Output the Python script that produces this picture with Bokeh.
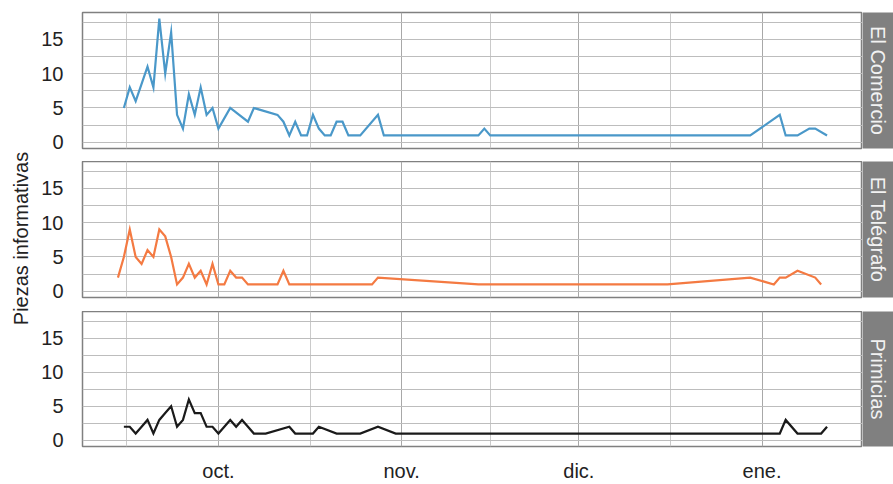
from math import pi
import pandas as pd
from bokeh.plotting import figure
from bokeh.layouts import row, column
from bokeh.models import Range1d, FixedTicker, CustomJSTickFormatter
from bokeh.embed import file_html
from bokeh.resources import INLINE
from bokeh.core.properties import value

FONT = "Liberation Sans"

outlets = ["El Comercio", "El Telégrafo", "Primicias"]
colors = ["#4A98C9", "#F47A42", "#1A1A1A"]
y_title = "Piezas informativas"

ec_dates = ["2019-09-15", "2019-09-16", "2019-09-17", "2019-09-19", "2019-09-20",
            "2019-09-21", "2019-09-22", "2019-09-23", "2019-09-24", "2019-09-25",
            "2019-09-26", "2019-09-27", "2019-09-28", "2019-09-29", "2019-09-30",
            "2019-10-01", "2019-10-03", "2019-10-06", "2019-10-07", "2019-10-11",
            "2019-10-12", "2019-10-13", "2019-10-14", "2019-10-15", "2019-10-16",
            "2019-10-17", "2019-10-18", "2019-10-19", "2019-10-20", "2019-10-21",
            "2019-10-22", "2019-10-23", "2019-10-25", "2019-10-28", "2019-10-29",
            "2019-11-14", "2019-11-15", "2019-11-16", "2019-12-30", "2020-01-04",
            "2020-01-05", "2020-01-07", "2020-01-09", "2020-01-10", "2020-01-12"]
ec_values = [5, 8, 6, 11, 8,
             18, 10, 16, 4, 2,
             7, 4, 8, 4, 5,
             2, 5, 3, 5, 4,
             3, 1, 3, 1, 1,
             4, 2, 1, 1, 3,
             3, 1, 1, 4, 1,
             1, 2, 1, 1, 4,
             1, 1, 2, 2, 1]

et_dates = ["2019-09-14", "2019-09-15", "2019-09-16", "2019-09-17", "2019-09-18",
            "2019-09-19", "2019-09-20", "2019-09-21", "2019-09-22", "2019-09-23",
            "2019-09-24", "2019-09-25", "2019-09-26", "2019-09-27", "2019-09-28",
            "2019-09-29", "2019-09-30", "2019-10-01", "2019-10-02", "2019-10-03",
            "2019-10-04", "2019-10-05", "2019-10-06", "2019-10-11", "2019-10-12",
            "2019-10-13", "2019-10-27", "2019-10-28", "2019-11-14", "2019-12-16",
            "2019-12-30", "2020-01-03", "2020-01-04", "2020-01-05", "2020-01-07",
            "2020-01-10", "2020-01-11"]
et_values = [2, 5, 9, 5, 4,
             6, 5, 9, 8, 5,
             1, 2, 4, 2, 3,
             1, 4, 1, 1, 3,
             2, 2, 1, 1, 3,
             1, 1, 2, 1, 1,
             2, 1, 2, 2, 3,
             2, 1]

pr_dates = ["2019-09-15", "2019-09-16", "2019-09-17", "2019-09-18", "2019-09-19",
            "2019-09-20", "2019-09-21", "2019-09-22", "2019-09-23", "2019-09-24",
            "2019-09-25", "2019-09-26", "2019-09-27", "2019-09-28", "2019-09-29",
            "2019-09-30", "2019-10-01", "2019-10-02", "2019-10-03", "2019-10-04",
            "2019-10-05", "2019-10-06", "2019-10-07", "2019-10-09", "2019-10-13",
            "2019-10-14", "2019-10-17", "2019-10-18", "2019-10-21", "2019-10-25",
            "2019-10-28", "2019-10-31", "2020-01-04", "2020-01-05", "2020-01-07",
            "2020-01-11", "2020-01-12"]
pr_values = [2, 2, 1, 2, 3,
             1, 3, 4, 5, 2,
             3, 6, 4, 4, 2,
             2, 1, 2, 3, 2,
             3, 2, 1, 1, 2,
             1, 1, 2, 1, 1,
             2, 1, 1, 3, 1,
             1, 2]

month_ticks = ["2019-10-01", "2019-11-01", "2019-12-01", "2020-01-01"]
month_minor = ["2019-09-15 12:00", "2019-10-16 12:00", "2019-11-16 00:00", "2019-12-16 12:00"]
y_ticks = [0, 5, 10, 15]
y_minor = [2.5, 7.5, 12.5, 17.5]


def ms(d):
    return pd.Timestamp(d).value / 1e6


series = [(pd.to_datetime(ec_dates), ec_values),
          (pd.to_datetime(et_dates), et_values),
          (pd.to_datetime(pr_dates), pr_values)]

all_dates = pd.to_datetime(ec_dates + et_dates + pr_dates)
d0, d1 = all_dates.min(), all_dates.max()
pad = (d1 - d0) * 0.05
xr = Range1d(start=d0 - pad, end=d1 + pad)
y_lo, y_hi = 0, max(ec_values + et_values + pr_values)
ypad = (y_hi - y_lo) * 0.05
yr = Range1d(start=y_lo - ypad, end=y_hi + ypad)

x_major = [ms(d) for d in month_ticks]
x_minor = [ms(d) for d in month_minor]

fmt_code = """
const m = ["ene.","feb.","mar.","abr.","may.","jun.","jul.","ago.","sept.","oct.","nov.","dic."];
return m[new Date(tick).getUTCMonth()];
"""

TOTAL_H = 484
heights = [161, 150, 173]
tops = [12, 0, 0]
bottoms = [13, 14, 37]

rows = []
for i, ((dates, vals), name, color) in enumerate(zip(series, outlets, colors)):
    p = figure(width=824, height=heights[i], x_range=xr, y_range=yr,
               x_axis_type="datetime", toolbar_location=None, output_backend="svg",
               min_border_left=43, min_border_right=0,
               min_border_top=tops[i], min_border_bottom=bottoms[i],
               background_fill_color="white", border_fill_color="white",
               outline_line_color="#808080", outline_line_width=1.5)
    xt = FixedTicker(ticks=x_major, minor_ticks=x_minor)
    yt = FixedTicker(ticks=y_ticks, minor_ticks=y_minor)
    p.xaxis.ticker = xt
    p.yaxis.ticker = yt
    p.xgrid.ticker = xt
    p.ygrid.ticker = yt
    p.xaxis.formatter = CustomJSTickFormatter(code=fmt_code)
    p.xgrid.grid_line_color = "#A8A8A8"
    p.xgrid.minor_grid_line_color = "#CACACA"
    p.ygrid.grid_line_color = "#BDBDBD"
    p.ygrid.minor_grid_line_color = "#BDBDBD"
    for ax in (p.xaxis[0], p.yaxis[0]):
        ax.axis_line_color = None
        ax.major_tick_line_color = None
        ax.minor_tick_line_color = None
        ax.major_tick_out = 0
        ax.major_tick_in = 0
        ax.minor_tick_out = 0
        ax.minor_tick_in = 0
        ax.major_label_text_font = FONT
        ax.major_label_text_font_size = "20px"
        ax.major_label_text_color = "#222222"
    p.yaxis.major_label_standoff = 19
    p.xaxis.major_label_standoff = 13
    if i < 2:
        p.xaxis.visible = False
    p.line(x=dates, y=vals, line_color=color, line_width=2.2, line_join="miter")

    s = figure(width=31, height=heights[i], x_range=Range1d(0, 1), y_range=Range1d(0, 1),
               toolbar_location=None, output_backend="svg",
               x_axis_type=None, y_axis_type=None,
               min_border_left=0, min_border_right=0,
               min_border_top=tops[i], min_border_bottom=bottoms[i],
               background_fill_color="#808080", border_fill_color="white",
               outline_line_color=None)
    s.text(x=[0.5], y=[0.5], text=[name], angle=-pi / 2,
           text_align="center", text_baseline="middle",
           text_font=value(FONT), text_font_size="20px", text_color="#F2F2F2")
    rows.append(row(p, s))

t = figure(width=38, height=TOTAL_H, x_range=Range1d(0, 38), y_range=Range1d(0, TOTAL_H),
           toolbar_location=None, output_backend="svg",
           x_axis_type=None, y_axis_type=None, min_border=0,
           background_fill_color="white", border_fill_color="white",
           outline_line_color=None)
t.text(x=[20], y=[TOTAL_H - 238], text=[y_title], angle=pi / 2,
       text_align="center", text_baseline="middle",
       text_font=value(FONT), text_font_size="20px", text_color="#222222")

layout = row(t, column(*rows))
open("out.html", "w").write(file_html(layout, INLINE))
